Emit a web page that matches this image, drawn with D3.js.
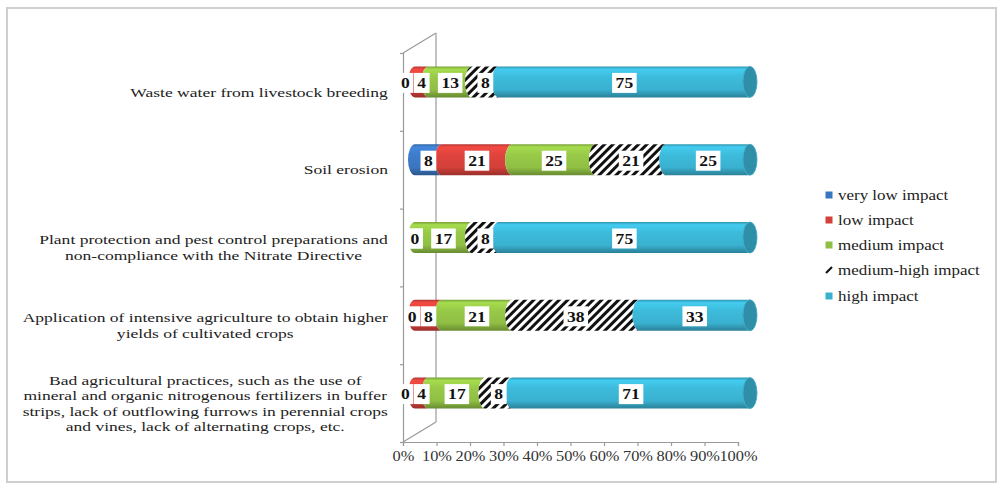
<!DOCTYPE html>
<html><head><meta charset="utf-8">
<script src="https://cdn.jsdelivr.net/npm/d3@7"></script>
<style>
html,body{margin:0;padding:0;background:#fff;}
svg{display:block;}
</style></head>
<body><svg id="c" width="1001" height="486" font-family="Liberation Serif"></svg>
<script>
// ---- data ----
const categories = [
  "Waste water from livestock breeding",
  "Soil erosion",
  "Plant protection and pest control preparations and non-compliance with the Nitrate Directive",
  "Application of intensive agriculture to obtain higher yields of cultivated crops",
  "Bad agricultural practices, such as the use of mineral and organic nitrogenous fertilizers in buffer strips, lack of outflowing furrows in perennial crops and vines, lack of alternating crops, etc."
];
const categoryLines = [
  ["Waste water from livestock breeding"],
  ["Soil erosion"],
  ["Plant protection and pest control preparations and", "non-compliance with the Nitrate Directive"],
  ["Application of intensive agriculture to obtain higher", "yields of cultivated crops"],
  ["Bad agricultural practices, such as the use of", "mineral and organic nitrogenous fertilizers in buffer", "strips, lack of outflowing furrows in perennial crops", "and vines, lack of alternating crops, etc."]
];
const seriesNames = ["very low impact", "low impact", "medium impact", "medium-high impact", "high impact"];
const veryLow    = [0, 8, 0, 0, 0];
const low        = [4, 21, 0, 8, 4];
const medium     = [13, 25, 17, 21, 17];
const mediumHigh = [8, 21, 8, 38, 8];
const high       = [75, 25, 75, 33, 71];
const tickValues = [0, 10, 20, 30, 40, 50, 60, 70, 80, 90, 100];
const seriesColors = ["#3a76c0", "#d3403a", "#90bf44", "hatch", "#3ab1d0"];

// ---- layout ----
const FONT = "Liberation Serif";
const svg = d3.select("#c");
const SX = 1.17; // horizontal stretch of text as in reference
const CAT_FS = 13.5, CAT_SX = 1.3;
const frontLeft = 403, frontRight = 738, frontTop = 53, frontBottom = 442;
const depthX = 33, depthY = -20;
const barOffX = 12, barOffY = -10;
const ry = 15.5, rx = 7;

const x = d3.scaleLinear().domain([0, 100]).range([frontLeft, frontRight]);
const y = d3.scaleBand().domain(categories).range([frontTop, frontBottom]);

// frame
svg.append("rect").attr("x", 7).attr("y", 8).attr("width", 989).attr("height", 474)
  .attr("fill", "#fff").attr("stroke", "#cfcfcf").attr("stroke-width", 2);

const defs = svg.append("defs");
const allSeries = [veryLow, low, medium, mediumHigh, high];

seriesColors.forEach((c, i) => {
  if (c === "hatch") return;
  const g = defs.append("linearGradient").attr("id", "g" + i)
    .attr("x1", 0).attr("y1", 0).attr("x2", 0).attr("y2", 1);
  const base = d3.color(c);
  g.append("stop").attr("offset", "0%").attr("stop-color", base.darker(0.5));
  g.append("stop").attr("offset", "9%").attr("stop-color", base.brighter(0.4));
  g.append("stop").attr("offset", "35%").attr("stop-color", base.brighter(0.15));
  g.append("stop").attr("offset", "75%").attr("stop-color", base);
  g.append("stop").attr("offset", "100%").attr("stop-color", base.darker(0.9));
});
const pat = defs.append("pattern").attr("id", "hatch").attr("patternUnits", "userSpaceOnUse")
  .attr("width", 6).attr("height", 6).attr("patternTransform", "rotate(45)");
pat.append("rect").attr("width", 6).attr("height", 6).attr("fill", "#fff");
pat.append("rect").attr("width", 3).attr("height", 6).attr("fill", "#111");

// walls
const wall = svg.append("g").attr("stroke", "#9a9a9a").attr("stroke-width", 1.2).attr("fill", "none");
wall.append("line").attr("x1", frontLeft + depthX).attr("y1", frontTop + depthY)
  .attr("x2", frontLeft + depthX).attr("y2", frontBottom + depthY);
wall.append("line").attr("x1", frontLeft).attr("y1", frontTop)
  .attr("x2", frontLeft + depthX).attr("y2", frontTop + depthY);
wall.append("line").attr("x1", frontLeft).attr("y1", frontBottom)
  .attr("x2", frontLeft + depthX).attr("y2", frontBottom + depthY);

// left axis (ticks only)
const yAxisScale = d3.scaleLinear().domain([0, categories.length]).range([frontTop, frontBottom]);
const ga = svg.append("g").attr("transform", `translate(${frontLeft},0)`)
  .call(d3.axisLeft(yAxisScale).tickValues(d3.range(0, categories.length + 1)).tickSize(3).tickFormat(""));
ga.selectAll("path,line").attr("stroke", "#9a9a9a").attr("stroke-width", 1.2);

// bottom axis
const gx = svg.append("g").attr("transform", `translate(0,${frontBottom})`)
  .call(d3.axisBottom(x).tickValues(tickValues).tickSize(4).tickPadding(4).tickFormat(d => d + "%"));
gx.attr("font-family", FONT);
gx.selectAll("path,line").attr("stroke", "#9a9a9a").attr("stroke-width", 1.2);
gx.selectAll(".tick text").each(function () {
  const t = d3.select(this);
  const yy = +t.attr("y");
  t.attr("y", null).attr("dy", "0.71em")
    .attr("transform", `translate(0,${yy + 1}) scale(${SX},1)`)
    .attr("font-family", FONT).attr("font-size", 14).attr("fill", "#333");
});

// bars
function segPath(a, b, cy) {
  return `M${a},${cy - ry} A${rx},${ry} 0 0 0 ${a},${cy + ry} L${b},${cy + ry} A${rx},${ry} 0 0 1 ${b},${cy - ry} Z`;
}
const bars = svg.append("g");
const labelsG = svg.append("g");
categories.forEach((cat, ci) => {
  const cy = y(cat) + y.bandwidth() / 2 + barOffY;
  let cum = 0;
  const segs = [];
  allSeries.forEach((s, si) => {
    const v = s[ci];
    segs.push({ si, v, a: cum, b: cum + v });
    cum += v;
  });
  segs.forEach(sg => {
    if (sg.v <= 0) return;
    const fill = seriesColors[sg.si] === "hatch" ? "url(#hatch)" : `url(#g${sg.si})`;
    bars.append("path").attr("d", segPath(x(sg.a) + barOffX, x(sg.b) + barOffX, cy)).attr("fill", fill);
  });
  // end cap
  const last = segs.filter(s => s.v > 0).slice(-1)[0];
  const capColor = seriesColors[last.si] === "hatch" ? "#555" : d3.color(seriesColors[last.si]).darker(0.6);
  bars.append("ellipse").attr("cx", x(100) + barOffX).attr("cy", cy).attr("rx", rx).attr("ry", ry)
    .attr("fill", capColor).attr("stroke", d3.color(seriesColors[last.si]).darker(0.2)).attr("stroke-width", 0.8);
  // labels: measure first, then resolve collisions from right to left
  const labs = segs.map(sg => {
    const cx = x((sg.a + sg.b) / 2) + barOffX;
    const g = labelsG.append("g");
    const t = g.append("text").attr("text-anchor", "middle").attr("dy", "0.35em")
      .attr("font-family", FONT).attr("font-weight", "bold").attr("font-size", 15).attr("fill", "#111").text(sg.v);
    const w = t.node().getComputedTextLength();
    g.insert("rect", "text").attr("x", -w / 2 - 3).attr("y", -10).attr("width", w + 6).attr("height", 20)
      .attr("fill", "#fff");
    return { g, cx, half: (w / 2 + 3) * SX, v: sg.v };
  });
  for (let i = labs.length - 2; i >= 0; i--) {
    const a = labs[i], b = labs[i + 1];
    if (a.v === b.v && Math.abs(a.cx - b.cx) < 0.5) continue; // identical stacked labels
    const overlap = (a.cx + a.half) - (b.cx - b.half);
    if (overlap > 0) a.cx -= overlap + 0.5;
  }
  labs.forEach(l => l.g.attr("transform", `translate(${l.cx},${cy + 1}) scale(${SX},1)`));
});

// category labels
const catG = svg.append("g");
const labelRight = 388, lineH = 15.5;
categories.forEach((cat, ci) => {
  const lines = categoryLines[ci];
  const cyc = y(cat) + y.bandwidth() / 2;
  const g = catG.append("g");
  const texts = lines.map((ln) => g.append("text").attr("text-anchor", "middle").attr("dy", "0.35em")
    .attr("font-family", FONT).attr("font-size", CAT_FS).attr("fill", "#222").text(ln));
  const maxW = d3.max(texts, t => t.node().getComputedTextLength()) * CAT_SX;
  const cx = labelRight - maxW / 2;
  texts.forEach((t, li) => {
    const ly = cyc + (li - (lines.length - 1) / 2) * lineH;
    t.attr("transform", `translate(${cx},${ly}) scale(${CAT_SX},1)`);
  });
});

// legend
const lg = svg.append("g");
const legendY = [195, 220, 245, 270, 296];
seriesNames.forEach((n, i) => {
  const yy = legendY[i];
  if (seriesColors[i] === "hatch") {
    lg.append("line").attr("x1", 826).attr("y1", yy + 3).attr("x2", 832).attr("y2", yy - 3)
      .attr("stroke", "#111").attr("stroke-width", 2.2);
  } else {
    lg.append("rect").attr("x", 825.5).attr("y", yy - 3.5).attr("width", 7).attr("height", 7)
      .attr("fill", seriesColors[i]);
  }
  lg.append("text").attr("transform", `translate(838,${yy}) scale(${SX},1)`).attr("dy", "0.35em")
    .attr("font-family", FONT).attr("font-size", 14.5).attr("fill", "#222").text(n);
});
</script></body></html>
